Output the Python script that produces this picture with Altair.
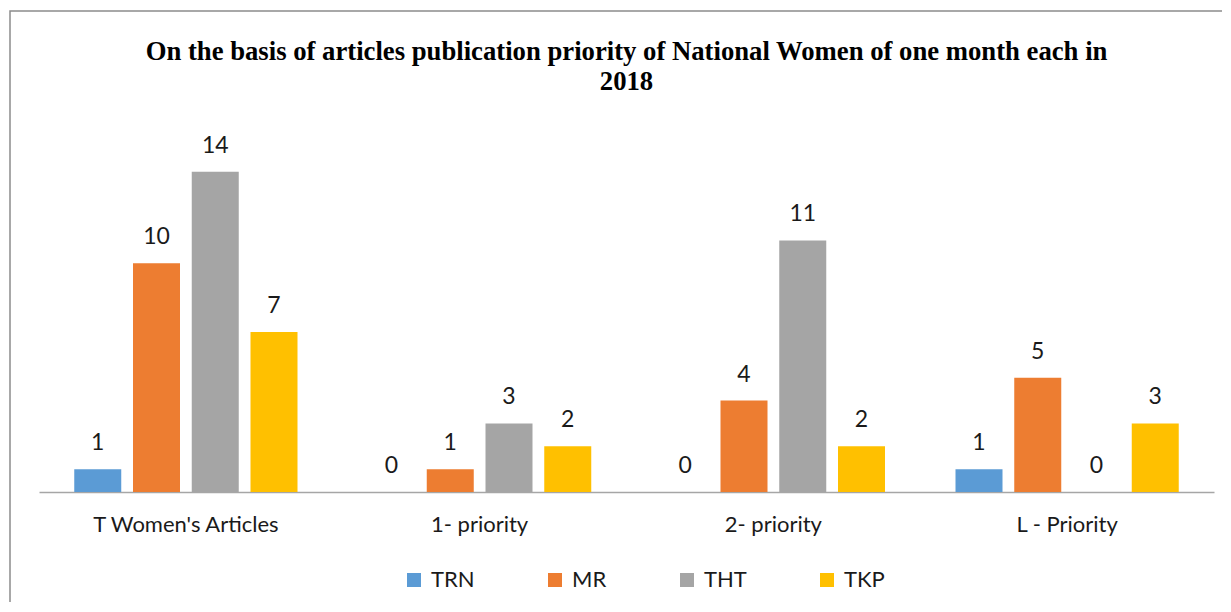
import altair as alt
import pandas as pd

categories = ["T Women's Articles", "1- priority", "2- priority", "L - Priority"]
series = ["TRN", "MR", "THT", "TKP"]
trn = [1, 0, 0, 1]
mr = [10, 1, 4, 5]
tht = [14, 3, 11, 0]
tkp = [7, 2, 2, 3]
colors = ["#5B9BD5", "#ED7D31", "#A5A5A5", "#FFC000"]

rows = []
for s, vals in zip(series, [trn, mr, tht, tkp]):
    for c, v in zip(categories, vals):
        rows.append({"category": c, "series": s, "value": v})
df = pd.DataFrame(rows)

SANS = "Lato"
SERIF = "Liberation Serif"

x_enc = alt.X("category:N", sort=categories,
              scale=alt.Scale(paddingInner=0, paddingOuter=0),
              axis=alt.Axis(title=None, labelAngle=0, ticks=False, domainColor="#a6a6a6",
                            domainWidth=1.3, labelFont=SANS, labelFontSize=22, labelLimit=400,
                            labelColor="#1a1a1a", labelPadding=22, grid=False))
xoff = alt.XOffset("series:N", sort=series,
                   scale=alt.Scale(paddingInner=0.2, paddingOuter=0.6))
y_enc = alt.Y("value:Q", scale=alt.Scale(domain=[0, 16]), axis=None)

bars = alt.Chart(df).mark_bar().encode(
    x=x_enc, xOffset=xoff, y=y_enc,
    color=alt.Color("series:N", sort=series,
                    scale=alt.Scale(domain=series, range=colors),
                    legend=alt.Legend(title=None, orient="none", direction="horizontal",
                                      columns=4, columnPadding=69, legendX=364, legendY=443,
                                      symbolType="square", symbolSize=196, symbolStrokeWidth=0,
                                      labelFont=SANS, labelFontSize=22, labelColor="#1a1a1a",
                                      labelOffset=6, padding=0)),
)

labels = alt.Chart(df).mark_text(baseline="alphabetic", dy=-19, font=SANS, fontSize=23,
                                 color="#1a1a1a").encode(
    x=x_enc, xOffset=xoff, y=y_enc, text="value:Q"
)

border = alt.Chart(pd.DataFrame({"a": [0]})).mark_rect(
    fill="transparent", stroke="#8c8c8c", strokeWidth=1.5
).encode(x=alt.value(-29), x2=alt.value(1260), y=alt.value(-115), y2=alt.value(620))

chart = alt.layer(border, bars, labels).properties(
    width=1175, height=366,
    autosize=alt.AutoSizeParams(type="none"),
    padding={"left": 31, "top": 118, "right": 8, "bottom": 110},
    title=alt.TitleParams(
        text=["On the basis of articles publication priority of National Women of one month each in", "2018"],
        font=SERIF, fontSize=26.7, fontWeight="bold", color="#000000",
        anchor="middle", offset=34, dy=119, lineHeight=30,
    ),
).configure(background="white").configure_view(stroke="transparent", strokeWidth=0)

chart.save("out.html", embed_options={"renderer": "svg", "actions": False})
